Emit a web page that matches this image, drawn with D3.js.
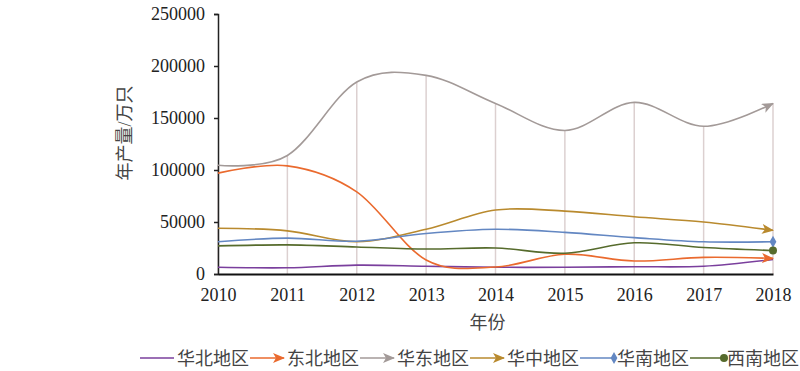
<!DOCTYPE html>
<html>
  <head>
    <meta charset="utf-8">
    <script src="https://d3js.org/d3.v7.min.js"></script>
    <style>
      body { margin: 0; background: #fff; }
      svg { display: block; }
    </style>
  </head>
  <body>
    <script>
      // data
      const years = [2010, 2011, 2012, 2013, 2014, 2015, 2016, 2017, 2018]
      const huabei   = [6500, 6000, 8500, 7500, 6500, 6500, 7000, 7500, 14000]
      const dongbei  = [97000, 104000, 79000, 13500, 6700, 19000, 12500, 16000, 15000]
      const huadong  = [104500, 114000, 184600, 191000, 164000, 138000, 165000, 142000, 164000]
      const huazhong = [44000, 41500, 31000, 43000, 61500, 60500, 55000, 50000, 42000]
      const huanan   = [31000, 34500, 31500, 39000, 43000, 40000, 35000, 31000, 31000]
      const xinan    = [27000, 28000, 26000, 24000, 25000, 20000, 30000, 25500, 22500]
      const names = ["华北地区", "东北地区", "华东地区", "华中地区", "华南地区", "西南地区"]
      const yTicks = [0, 50000, 100000, 150000, 200000, 250000]

      const series = [
        { name: names[0], values: huabei,   color: "#7a3f9d", marker: "none" },
        { name: names[1], values: dongbei,  color: "#ea6a2e", marker: "arrow" },
        { name: names[2], values: huadong,  color: "#a39a98", marker: "arrow" },
        { name: names[3], values: huazhong, color: "#b98a2e", marker: "arrow" },
        { name: names[4], values: huanan,   color: "#6387c2", marker: "diamond" },
        { name: names[5], values: xinan,    color: "#566b2c", marker: "circle" }
      ]

      const serif = "'Liberation Serif'"
      const cjk = "'Liberation Serif', 'Noto Sans CJK SC'"

      const W = 800, H = 371
      const svg = d3.select("body").append("svg").attr("width", W).attr("height", H)

      const x = d3.scaleLinear().domain([2010, 2018]).range([218, 773])
      const y = d3.scaleLinear().domain([0, 250000]).range([274, 14])

      // drop lines from highest series down to the axis
      svg.append("g").selectAll("line")
        .data(years)
        .enter().append("line")
          .attr("x1", d => x(d)).attr("x2", d => x(d))
          .attr("y1", (d, i) => y(d3.max(series, s => s.values[i])))
          .attr("y2", y(0))
          .attr("stroke", "#dcd0d0").attr("stroke-width", 1.5)

      // y axis
      const yAxis = d3.axisLeft(y).tickValues(yTicks).tickSize(4).tickPadding(9).tickFormat(d3.format("d"))
      const gy = svg.append("g").attr("transform", "translate(" + x(2010) + ",0)").call(yAxis)
      gy.select(".domain").attr("stroke", "#222").attr("stroke-width", 1.5)
      gy.selectAll(".tick line").attr("stroke", "#222").attr("stroke-width", 1.5)
      gy.selectAll(".tick text")
        .style("font-family", serif).style("font-size", "18px").style("fill", "#222")

      // x axis
      const xAxis = d3.axisBottom(x).tickValues(years).tickSize(0).tickPadding(14).tickFormat(d3.format("d"))
      const gx = svg.append("g").attr("transform", "translate(0," + y(0) + ")").call(xAxis)
      gx.select(".domain").attr("stroke", "#111").attr("stroke-width", 2)
      gx.selectAll(".tick text")
        .style("font-family", serif).style("font-size", "18px").style("fill", "#222")

      // markers
      const defs = svg.append("defs")
      series.forEach((s, i) => {
        defs.append("marker")
          .attr("id", "arrow" + i)
          .attr("viewBox", "0 0 12 10")
          .attr("refX", 11).attr("refY", 5)
          .attr("markerWidth", 12).attr("markerHeight", 10)
          .attr("markerUnits", "userSpaceOnUse")
          .attr("orient", "auto")
          .append("path")
            .attr("d", "M0,0 L12,5 L0,10 L3,5 Z")
            .attr("fill", s.color)
      })

      const line = d3.line()
        .x((d, i) => x(years[i]))
        .y(d => y(d))
        .curve(d3.curveCardinal.tension(0))

      svg.append("g").selectAll("path")
        .data(series)
        .enter().append("path")
          .attr("d", d => line(d.values))
          .attr("fill", "none")
          .attr("stroke", d => d.color)
          .attr("stroke-width", 1.6)
          .attr("marker-end", (d, i) => d.marker === "arrow" ? "url(#arrow" + i + ")" : null)

      const symbolFor = m => m === "diamond"
        ? d3.symbol().type(d3.symbolDiamond).size(40)
        : d3.symbol().type(d3.symbolCircle).size(50)

      const last = years.length - 1
      svg.append("g").selectAll("path")
        .data(series.filter(s => s.marker === "diamond" || s.marker === "circle"))
        .enter().append("path")
          .attr("d", d => symbolFor(d.marker)())
          .attr("transform", d => "translate(" + x(years[last]) + "," + y(d.values[last]) + ")")
          .attr("fill", d => d.color)

      // axis titles
      svg.append("text")
        .attr("transform", "translate(131,133) rotate(-90)")
        .attr("text-anchor", "middle")
        .style("font-family", cjk).style("font-size", "18px").style("fill", "#444")
        .text("年产量/万只")
      svg.append("text")
        .attr("x", (x(2010) + x(2018)) / 2 - 8).attr("y", 329)
        .attr("text-anchor", "middle")
        .style("font-family", cjk).style("font-size", "18px").style("fill", "#444")
        .text("年份")

      // legend
      const legend = svg.append("g").attr("transform", "translate(140,358)")
      let lx = 0
      series.forEach((s, i) => {
        const g = legend.append("g").attr("transform", "translate(" + lx + ",0)")
        const segLen = 34
        g.append("line")
          .attr("x1", 0).attr("x2", segLen).attr("y1", 0).attr("y2", 0)
          .attr("stroke", s.color).attr("stroke-width", 1.6)
          .attr("marker-end", s.marker === "arrow" ? "url(#arrow" + i + ")" : null)
        if (s.marker === "diamond" || s.marker === "circle") {
          g.append("path").attr("d", symbolFor(s.marker)())
            .attr("transform", "translate(" + segLen + ",0)")
            .attr("fill", s.color)
        }
        const t = g.append("text")
          .attr("x", segLen + 3).attr("y", 7)
          .style("font-family", cjk).style("font-size", "18px").style("fill", "#444")
          .text(s.name)
        lx += segLen + 3 + t.node().getComputedTextLength() + 1
      })
    </script>
  </body>
</html>
